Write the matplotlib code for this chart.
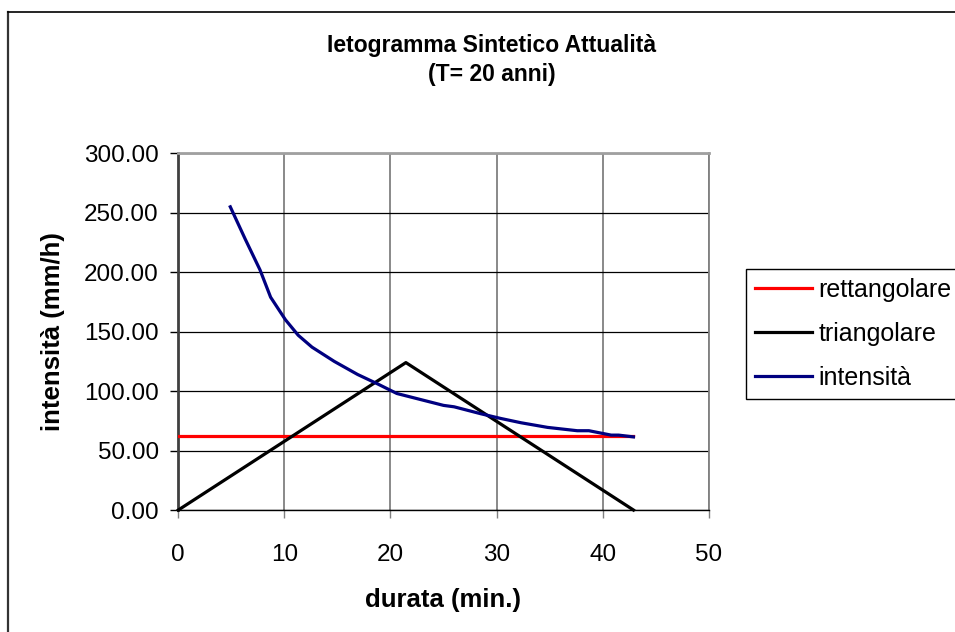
import matplotlib.pyplot as plt
from matplotlib.lines import Line2D

plt.rcParams['font.family'] = ['Liberation Sans', 'DejaVu Sans']

# ietogramma rettangolare (intensità costante per tutta la durata)
durata_rett = [0, 42.9]
rettangolare = [62.0, 62.0]

# ietogramma triangolare (picco a metà durata)
durata_tri = [0, 21.45, 42.9]
triangolare = [0, 124.0, 0]

# curva intensità-durata
durata_int = [4.9, 6.3, 7.7, 8.7, 10.1, 11.3, 12.6, 14.7, 16.9, 18.8, 20.6, 22.8,
              25.0, 26.0, 28.5, 30.4, 32.3, 34.8, 37.6, 38.7, 40.8, 41.5, 42.9]
intensita = [255, 228, 202, 179, 160, 147, 137, 125, 114, 106, 98, 93,
             88, 86.8, 81, 77, 73.4, 69.5, 66.7, 66.7, 63, 63, 61.5]

x_ticks = [0, 10, 20, 30, 40, 50]
y_ticks = [0, 50, 100, 150, 200, 250, 300]

fig = plt.figure(figsize=(9.55, 6.32), dpi=100)
ax = fig.add_axes([0.1867, 0.1930, 0.5555, 0.5644])

ax.plot(durata_rett, rettangolare, color='#ff0000', lw=2.3, label='rettangolare', zorder=3)
ax.plot(durata_tri, triangolare, color='black', lw=2.3, label='triangolare', zorder=4,
        clip_on=False)
ax.plot(durata_int, intensita, color='#000080', lw=2.3, label='intensità', zorder=5)

ax.set_xlim(0, 50)
ax.set_ylim(0, 300)
ax.set_xticks(x_ticks)
ax.set_yticks(y_ticks)
ax.set_yticklabels(['%.2f' % v for v in y_ticks])

ax.set_axisbelow(True)
ax.grid(axis='y', color='black', lw=0.9)
ax.grid(axis='x', color='#808080', lw=1.3)

ax.spines['left'].set_color('#404040')
ax.spines['left'].set_linewidth(2)
ax.spines['bottom'].set_color('black')
ax.spines['bottom'].set_linewidth(1)
ax.spines['top'].set_color('#a0a0a0')
ax.spines['top'].set_linewidth(2)
ax.spines['right'].set_color('#808080')
ax.spines['right'].set_linewidth(1.3)

ax.tick_params(axis='y', direction='out', length=6, width=1, color='black',
               labelsize=17.5, pad=8)
ax.tick_params(axis='x', direction='out', length=6, width=1, color='#808080',
               labelsize=17.5, pad=18.5)

ax.set_xlabel('durata (min.)', fontsize=18.5, fontweight='bold', va='center')
ax.xaxis.set_label_coords(0.499, -0.252)
ax.set_ylabel('intensità (mm/h)', fontsize=18.5, fontweight='bold', va='center')
ax.yaxis.set_label_coords(-0.236, 0.5)

fig.text(492 / 955, 1 - 60 / 632, 'Ietogramma Sintetico Attualità\n(T= 20 anni)',
         ha='center', va='center', fontsize=16.5, fontweight='bold', linespacing=1.3)

leg = ax.legend(loc='upper left', bbox_to_anchor=(746 / 955, 1 - 269 / 632),
                bbox_transform=fig.transFigure, fancybox=False, framealpha=1,
                edgecolor='black', fontsize=18, handlelength=2.3, handletextpad=0.25,
                labelspacing=0.8, borderpad=0.35, borderaxespad=0)
leg.get_frame().set_linewidth(1)

# bordo esterno del grafico (visibile solo a sinistra e in alto)
fig.add_artist(Line2D([8 / 955, 8 / 955], [0, 1 - 12 / 632], color='#333333', lw=1.6))
fig.add_artist(Line2D([8 / 955, 1], [1 - 12 / 632, 1 - 12 / 632], color='black', lw=1.2))

fig.savefig('out.png', dpi=100)
